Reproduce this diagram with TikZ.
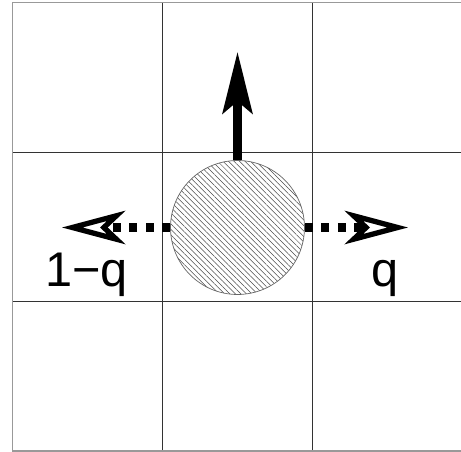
\documentclass[tikz,border=0pt]{standalone}
\usepackage{fontspec}
\setmainfont{Liberation Sans}
\usetikzlibrary{arrows.meta, patterns.meta}

\begin{document}
\begin{tikzpicture}[x=0.02cm, y=-0.02cm,
    gridline/.style={draw=black!80, line width=0.5pt},
    border/.style={draw=black!40, line width=0.9pt},
    dotline/.style={line width=4.6pt, dash pattern=on 4.6pt off 4.8pt},
    openhead/.style={-{Stealth[open, length=36pt, width=19pt, inset=10pt, line width=3pt]}},
    lbl/.style={anchor=base west, inner sep=0pt, font=\fontsize{27.7}{30}\selectfont}]
  \useasboundingbox (0,0) rectangle (461,452);
  % lattice
  \foreach \x in {162.5, 312.5}
    \draw[gridline] (\x,2.5) -- (\x,451);
  \foreach \y in {152, 301.5}
    \draw[gridline] (12.5,\y) -- (461,\y);
  \draw[border] (461,2.5) -- (12.5,2.5) -- (12.5,451) -- (461,451);
  % particle
  \node[circle, inner sep=0pt, minimum size=2.68cm, draw=black!60, line width=0.4pt,
        pattern={Lines[angle=-45, distance=2.2pt, line width=0.3pt]}, pattern color=black!70]
        (part) at (237.5,227.5) {};
  \coordinate (tipN) at (237.5,52);
  \coordinate (tipW) at (62,227.5);
  \coordinate (tipE) at (408,227.5);
  % moves
  \draw[line width=4.6pt, -{Stealth[length=35pt, width=17pt, inset=7pt]}] (part.north) -- (tipN);
  \draw[dotline, openhead] (part.west) -- (tipW);
  \draw[dotline, openhead] (part.east) -- (tipE);
  % rates
  \node[lbl] (rateW) at (45,287) {1−q};
  \node[lbl] (rateE) at (371,287) {q};
\end{tikzpicture}
\end{document}
